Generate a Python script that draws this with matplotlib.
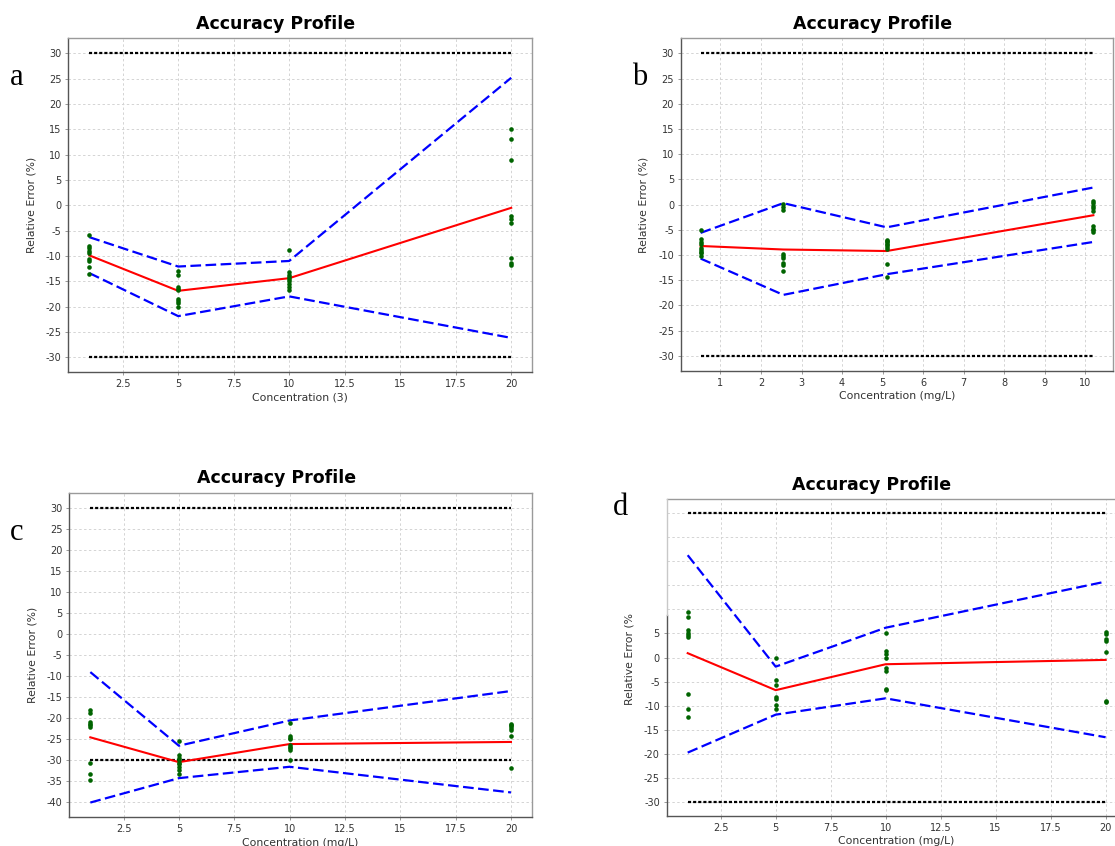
import matplotlib
matplotlib.use("Agg")
import matplotlib.pyplot as plt

W, H = 1115, 846

# ---------------- data ----------------
conc_a = [1, 5, 10, 20]
mean_a = [-9.9, -16.9, -14.4, -0.5]
upper_a = [-6.3, -12.1, -11.0, 25.2]
lower_a = [-13.4, -21.9, -18.0, -26.2]
pts_a_1 = [-5.8, -8.0, -8.4, -9.1, -9.5, -10.6, -11.1, -12.1, -13.6]
pts_a_5 = [-12.9, -13.8, -16.2, -16.5, -16.8, -18.5, -19.0, -19.3, -20.1]
pts_a_10 = [-8.9, -13.1, -13.7, -14.2, -14.6, -15.0, -15.6, -16.2, -16.7]
pts_a_20 = [15.0, 13.1, 9.0, -2.2, -2.7, -3.4, -10.5, -11.4, -11.7]

conc_b = [0.51, 2.55, 5.1, 10.2]
mean_b = [-8.2, -8.9, -9.2, -2.1]
upper_b = [-5.6, 0.3, -4.5, 3.4]
lower_b = [-10.7, -17.9, -13.8, -7.4]
pts_b_1 = [-5.1, -6.9, -7.4, -7.9, -8.6, -9.0, -9.3, -9.6, -10.1]
pts_b_2 = [0.1, -0.5, -1.0, -9.8, -10.2, -10.6, -11.6, -12.0, -13.1]
pts_b_3 = [-7.0, -7.2, -7.4, -7.8, -8.1, -8.5, -8.8, -11.7, -14.4]
pts_b_4 = [0.8, 0.4, -0.2, -0.6, -1.3, -4.3, -4.8, -5.0, -5.5]

conc_c = [1, 5, 10, 20]
mean_c = [-24.6, -30.5, -26.2, -25.7]
upper_c = [-9.1, -26.6, -20.6, -13.6]
lower_c = [-40.1, -34.3, -31.6, -37.7]
pts_c_1 = [-18.2, -18.8, -21.0, -21.4, -21.6, -22.1, -30.7, -33.2, -34.7]
pts_c_5 = [-25.4, -28.9, -29.5, -29.9, -30.8, -31.0, -31.6, -32.4, -33.3]
pts_c_10 = [-21.3, -24.3, -24.8, -25.0, -26.5, -26.9, -27.2, -27.5, -30.1]
pts_c_20 = [-21.4, -21.6, -22.0, -22.5, -22.8, -24.3, -32.0]

conc_d = [1, 5, 10, 20]
mean_d = [0.9, -6.8, -1.4, -0.5]
upper_d = [21.3, -1.9, 6.2, 15.8]
lower_d = [-19.8, -11.9, -8.5, -16.6]
pts_d_1 = [9.5, 8.5, 5.7, 5.1, 4.7, 4.3, -7.5, -10.7, -12.4]
pts_d_5 = [-0.2, -4.7, -5.8, -8.2, -8.6, -9.8, -10.7]
pts_d_10 = [5.1, 1.3, 0.8, -0.2, -2.2, -2.9, -6.5, -6.8]
pts_d_20 = [5.3, 4.9, 3.9, 3.5, 1.1, -9.0, -9.2]

acc_limit = 30

xticks_20 = [2.5, 5, 7.5, 10, 12.5, 15, 17.5, 20]
xticklabels_20 = ["2.5", "5", "7.5", "10", "12.5", "15", "17.5", "20"]
xticks_10 = [1, 2, 3, 4, 5, 6, 7, 8, 9, 10]
xticklabels_10 = ["1", "2", "3", "4", "5", "6", "7", "8", "9", "10"]
yticks_30 = [-30, -25, -20, -15, -10, -5, 0, 5, 10, 15, 20, 25, 30]
yticks_40 = [-40, -35, -30, -25, -20, -15, -10, -5, 0, 5, 10, 15, 20, 25, 30]

# ---------------- figure ----------------
fig = plt.figure(figsize=(W / 100, H / 100), dpi=100)
fig.patch.set_facecolor("white")


def make_axes(L, R, T, B):
    return fig.add_axes([L / W, 1 - B / H, (R - L) / W, (B - T) / H])


def draw_panel(ax, conc, mean, upper, lower, pts, xticks, xticklabels, yticks, xlabel):
    n = len(conc)
    ax.plot(conc, [acc_limit] * n, color="black", lw=1.6, ls=(0, (1.4, 0.9)), zorder=3)
    ax.plot(conc, [-acc_limit] * n, color="black", lw=1.6, ls=(0, (1.4, 0.9)), zorder=3)
    ax.plot(conc, upper, color="#0000ff", lw=1.6, ls=(0, (4.8, 2.0)), zorder=4)
    ax.plot(conc, lower, color="#0000ff", lw=1.6, ls=(0, (4.8, 2.0)), zorder=4)
    ax.plot(conc, mean, color="#ff0000", lw=1.5, zorder=5)
    for c, p in zip(conc, pts):
        ax.plot([c] * len(p), p, ls="none", marker="o", ms=3.3, mew=0,
                color="#006400", zorder=6)
    ax.margins(x=0.05, y=0.05)
    ax.set_xticks(xticks)
    ax.set_xticklabels(xticklabels)
    ax.set_yticks(yticks)
    ax.set_yticklabels([str(v) for v in yticks])
    ax.set_axisbelow(True)
    ax.grid(True, color="#d4d4d4", lw=0.7, ls=(0, (2.5, 2.5)))
    ax.tick_params(axis="both", length=2.5, width=0.6, color="#888888",
                   labelsize=7, labelcolor="#333333", pad=2.5)
    for s in ("top", "right"):
        ax.spines[s].set_color("#9a9a9a")
        ax.spines[s].set_linewidth(1.0)
    for s in ("left", "bottom"):
        ax.spines[s].set_color("#555555")
        ax.spines[s].set_linewidth(1.0)
    ax.set_xlabel(xlabel, fontsize=7.8, color="#333333")
    ax.xaxis.label.set_verticalalignment("center")
    ax.set_ylabel("Relative Error (%)", fontsize=7.8, color="#333333")
    ax.yaxis.label.set_verticalalignment("center")


def place_labels(ax, L, R, T, B):
    w = R - L
    h = B - T
    ax.xaxis.set_label_coords(0.5, -25.4 / h)
    ax.yaxis.set_label_coords(-37.0 / w, 0.5)


title_kw = dict(ha="center", va="center", fontsize=12.5, fontweight="bold", color="black")
letter_kw = dict(ha="center", va="baseline", fontsize=22, family="Liberation Serif", color="black")

# panel a
pa = (68.3, 532.3, 38.3, 372.3)
ax_a = make_axes(*pa)
draw_panel(ax_a, conc_a, mean_a, upper_a, lower_a,
           [pts_a_1, pts_a_5, pts_a_10, pts_a_20],
           xticks_20, xticklabels_20, yticks_30, "Concentration (3)")
place_labels(ax_a, *pa)
fig.text(276 / W, 1 - 24 / H, "Accuracy Profile", **title_kw)
fig.text(16.5 / W, 1 - 85 / H, "a", **letter_kw)

# panel b
pb = (681, 1113, 38.3, 371)
ax_b = make_axes(*pb)
draw_panel(ax_b, conc_b, mean_b, upper_b, lower_b,
           [pts_b_1, pts_b_2, pts_b_3, pts_b_4],
           xticks_10, xticklabels_10, yticks_30, "Concentration (mg/L)")
place_labels(ax_b, *pb)
fig.text(873 / W, 1 - 24 / H, "Accuracy Profile", **title_kw)
fig.text(640 / W, 1 - 85 / H, "b", **letter_kw)

# panel c
pc = (69.3, 532, 492.8, 817.3)
ax_c = make_axes(*pc)
draw_panel(ax_c, conc_c, mean_c, upper_c, lower_c,
           [pts_c_1, pts_c_5, pts_c_10, pts_c_20],
           xticks_20, xticklabels_20, yticks_40, "Concentration (mg/L)")
place_labels(ax_c, *pc)
fig.text(276.4 / W, 1 - 478.3 / H, "Accuracy Profile", **title_kw)
fig.text(16.5 / W, 1 - 540 / H, "c", **letter_kw)

# panel d
pd_ = (666.8, 1126.5, 499, 816)
ax_d = make_axes(*pd_)
draw_panel(ax_d, conc_d, mean_d, upper_d, lower_d,
           [pts_d_1, pts_d_5, pts_d_10, pts_d_20],
           xticks_20, xticklabels_20, yticks_30, "Concentration (mg/L)")
place_labels(ax_d, *pd_)
ax_d.set_ylabel("")
# upper left part of panel d is masked in the reference
visible_top = 8.8
ylo, yhi = ax_d.get_ylim()
ax_d.set_ylim(ylo, yhi)
for tick, val in zip(ax_d.yaxis.get_major_ticks(), yticks_30):
    if val > visible_top:
        tick.tick1line.set_visible(False)
        tick.label1.set_visible(False)
ax_d.spines["left"].set_bounds(ylo, visible_top)
frac = (visible_top - ylo) / (yhi - ylo)
ax_d.plot([0, 0], [frac, 1], transform=ax_d.transAxes, color="#c8c8c8",
          lw=1.0, clip_on=False, zorder=7)
ax_d.text(-37.0 / (pd_[1] - pd_[0]), (816 - 705) / (816 - 499), "Relative Error (%",
          transform=ax_d.transAxes, rotation=90, ha="center", va="bottom",
          fontsize=7.8, color="#333333")
fig.text(872 / W, 1 - 485 / H, "Accuracy Profile", **title_kw)
fig.text(620 / W, 1 - 515 / H, "d", **letter_kw)

fig.savefig("out.png", dpi=100, facecolor="white")
